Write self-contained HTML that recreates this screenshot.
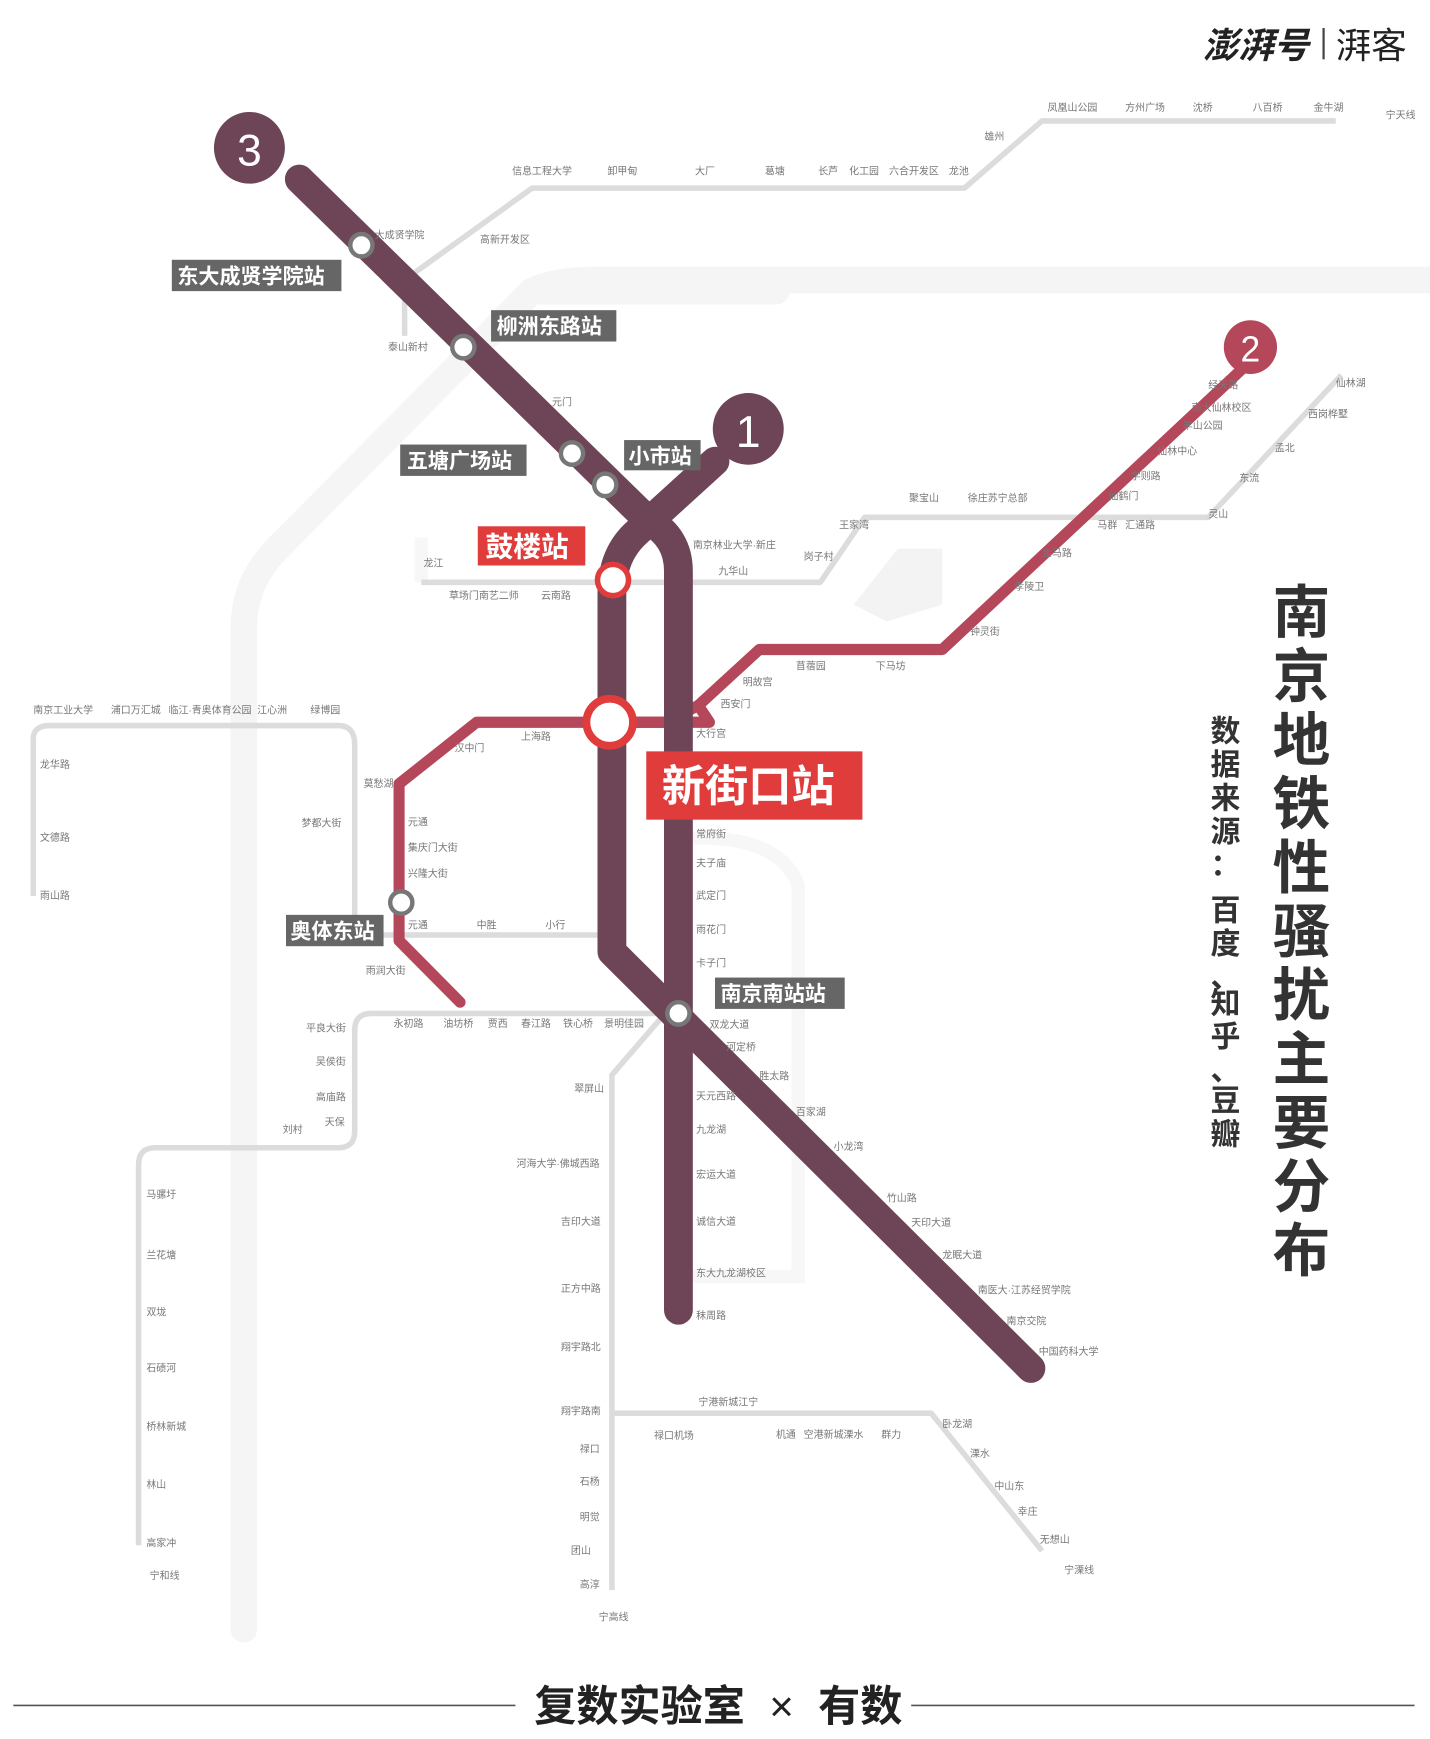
<!DOCTYPE html>
<html><head><meta charset="utf-8"><style>
html,body{margin:0;padding:0;background:#fff;}
svg{display:block;}
text{font-family:"Liberation Sans","Noto Sans CJK SC",sans-serif;}
.s{font-size:9px;fill:#777;}
</style></head><body>
<svg width="1430" height="1739" viewBox="0 0 1290 1553" preserveAspectRatio="none" xmlns="http://www.w3.org/2000/svg">
<rect width="1290" height="1553" fill="#fff"/>
<g stroke="#f5f5f5" stroke-width="24" fill="none" stroke-linecap="round">
<path d="M220 1455 V560 Q220 520 250 490 L480 260 Q500 250 540 250 H1290"/>
<path d="M480 260 H700"/>
</g>
<path d="M770 540 L810 490 H850 V540 L800 555 Z" fill="#f3f3f3"/>
<g stroke="#f7f7f7" stroke-width="12" fill="none">
<path d="M380 480 V520 M600 750 Q700 740 720 790 V1140 H600"/>
</g>
<g stroke="#dcdcdc" stroke-width="5" fill="none" stroke-linejoin="round">
<path d="M365 300 V250 L480 168 H870 L940 108 H1205"/>
<path d="M380 520 H740 L780 462 H1090 L1210 335"/>
<path d="M30 800 V660 Q30 648 45 648 H305 Q320 648 320 665 V825 Q320 835 335 835 H545"/>
<path d="M125 1380 V1040 Q125 1025 140 1025 H305 Q320 1025 320 1010 V920 Q320 905 335 905 H600"/>
<path d="M600 905 L552 960 V1420"/>
<path d="M552 1262 H840 L940 1385"/>
</g>
<path d="M1120 330 L850 580 H685 L630 630 L640 645 H430 L360 700 V840 L415 895" stroke="#b5475a" stroke-width="10" fill="none" stroke-linejoin="round" stroke-linecap="round"/>
<path d="M630 630 L600 645 H540" stroke="#b5475a" stroke-width="10" fill="none"/>
<g stroke="#6e4457" stroke-width="26" fill="none" stroke-linecap="round" stroke-linejoin="round">
<path d="M270 160 L585 465 Q612 480 612 510 V1170"/>
<path d="M645 412 L575 475 Q552 495 552 530 V850 L930 1222"/>
</g>
<circle cx="225" cy="132" r="32" fill="#6e4457"/><text x="225" y="148" font-size="40" fill="#fff" text-anchor="middle">3</text>
<circle cx="675" cy="383" r="32" fill="#6e4457"/><text x="675" y="399" font-size="40" fill="#fff" text-anchor="middle">1</text>
<circle cx="1128" cy="310" r="24" fill="#b5475a"/><text x="1128" y="323" font-size="32" fill="#fff" text-anchor="middle">2</text>
<g fill="#fff" stroke="#777" stroke-width="4">
<circle cx="326" cy="219" r="10"/><circle cx="418" cy="310" r="10"/><circle cx="516" cy="405" r="10"/><circle cx="546" cy="433" r="10"/><circle cx="362" cy="806" r="10"/><circle cx="612" cy="905" r="10"/>
</g>
<circle cx="553" cy="518" r="14" fill="#fff" stroke="#e03c3c" stroke-width="5"/>
<circle cx="550" cy="645" r="21" fill="#fff" stroke="#e03c3c" stroke-width="7"/>
<g font-size="19" fill="#fff" font-weight="bold">
<rect x="155" y="232" width="153" height="28" fill="#666"/><text x="160" y="253">东大成贤学院站</text>
<rect x="443" y="277" width="113" height="28" fill="#666"/><text x="448" y="298">柳洲东路站</text>
<rect x="361" y="397" width="114" height="28" fill="#666"/><text x="367" y="418">五塘广场站</text>
<rect x="563" y="393" width="69" height="27" fill="#666"/><text x="567" y="414">小市站</text>
<rect x="258" y="817" width="88" height="28" fill="#666"/><text x="262" y="838">奥体东站</text>
<rect x="645" y="873" width="117" height="28" fill="#666"/><text x="650" y="894">南京南站站</text>
<rect x="431" y="470" width="97" height="35" fill="#e03c3c"/><text x="438" y="497" font-size="25">鼓楼站</text>
<rect x="583" y="671" width="195" height="61" fill="#e03c3c"/><text x="597" y="716" font-size="39">新街口站</text>
</g>
<g class="s">
<text x="462" y="156">信息工程大学</text><text x="548" y="156">卸甲甸</text><text x="627" y="156">大厂</text><text x="690" y="156">葛塘</text><text x="738" y="156">长芦</text><text x="766" y="156">化工园</text><text x="802" y="156">六合开发区</text><text x="856" y="156">龙池</text>
<text x="888" y="125">雄州</text><text x="945" y="99">凤凰山公园</text><text x="1015" y="99">方州广场</text><text x="1076" y="99">沈桥</text><text x="1130" y="99">八百桥</text><text x="1185" y="99">金牛湖</text><text x="1250" y="106">宁天线</text>
<text x="433" y="217">高新开发区</text><text x="338" y="213">大成贤学院</text><text x="350" y="313">泰山新村</text><text x="498" y="362">元门</text>
<text x="820" y="448">聚宝山</text><text x="873" y="448">徐庄苏宁总部</text><text x="757" y="472">王家湾</text><text x="725" y="500">岗子村</text><text x="648" y="513">九华山</text><text x="625" y="490">南京林业大学·新庄</text>
<text x="405" y="535">草场门南艺二师</text><text x="488" y="535">云南路</text><text x="382" y="506">龙江</text>
<text x="990" y="472">马群</text><text x="1015" y="472">汇通路</text><text x="1090" y="462">灵山</text><text x="1118" y="430">东流</text><text x="1150" y="403">孟北</text><text x="1180" y="373">西岗桦墅</text><text x="1205" y="345">仙林湖</text>
<text x="1090" y="347">经天路</text><text x="1075" y="367">南大仙林校区</text><text x="1067" y="383">羊山公园</text><text x="1044" y="406">仙林中心</text><text x="1020" y="428">学则路</text><text x="1000" y="446">仙鹤门</text><text x="940" y="497">金马路</text><text x="915" y="527">孝陵卫</text><text x="875" y="567">钟灵街</text>
<text x="790" y="598">下马坊</text><text x="718" y="598">苜蓿园</text><text x="670" y="612">明故宫</text><text x="650" y="632">西安门</text><text x="628" y="658">大行宫</text>
<text x="30" y="637">南京工业大学</text><text x="100" y="637">浦口万汇城</text><text x="152" y="637">临江·青奥体育公园</text><text x="232" y="637">江心洲</text><text x="280" y="637">绿博园</text>
<text x="36" y="686">龙华路</text><text x="36" y="751">文德路</text><text x="36" y="803">雨山路</text><text x="272" y="738">梦都大街</text><text x="328" y="703">莫愁湖</text>
<text x="410" y="671">汉中门</text><text x="470" y="661">上海路</text><text x="368" y="737">元通</text><text x="368" y="760">集庆门大街</text><text x="368" y="783">兴隆大街</text><text x="368" y="829">元通</text><text x="430" y="829">中胜</text><text x="492" y="829">小行</text>
<text x="330" y="870">雨润大街</text><text x="355" y="917">永初路</text><text x="400" y="917">油坊桥</text><text x="440" y="917">贾西</text><text x="470" y="917">春江路</text><text x="508" y="917">铁心桥</text><text x="545" y="917">景明佳园</text>
<text x="276" y="921">平良大街</text><text x="285" y="951">吴侯街</text><text x="285" y="983">高庙路</text><text x="293" y="1005">天保</text><text x="255" y="1012">刘村</text>
<text x="132" y="1070">马骡圩</text><text x="132" y="1124">兰花塘</text><text x="132" y="1175">双垅</text><text x="132" y="1225">石碛河</text><text x="132" y="1277">桥林新城</text><text x="132" y="1329">林山</text><text x="132" y="1381">高家冲</text><text x="135" y="1410">宁和线</text>
<text x="518" y="975">翠屏山</text><text x="466" y="1042">河海大学·佛城西路</text><text x="506" y="1094">吉印大道</text><text x="506" y="1154">正方中路</text><text x="506" y="1206">翔宇路北</text><text x="506" y="1263">翔宇路南</text><text x="523" y="1297">禄口</text><text x="523" y="1326">石杨</text><text x="523" y="1358">明觉</text><text x="515" y="1388">团山</text><text x="523" y="1418">高淳</text><text x="540" y="1447">宁高线</text>
<text x="630" y="1255">宁港新城江宁</text><text x="590" y="1285">禄口机场</text><text x="700" y="1284">机通</text><text x="725" y="1284">空港新城溧水</text><text x="795" y="1284">群力</text><text x="850" y="1275">卧龙湖</text><text x="875" y="1301">溧水</text><text x="897" y="1330">中山东</text><text x="918" y="1353">幸庄</text><text x="938" y="1378">无想山</text><text x="960" y="1405">宁溧线</text>
<text x="640" y="918">双龙大道</text><text x="655" y="938">河定桥</text><text x="685" y="964">胜太路</text><text x="718" y="996">百家湖</text><text x="752" y="1027">小龙湾</text><text x="800" y="1073">竹山路</text><text x="822" y="1095">天印大道</text><text x="850" y="1124">龙眠大道</text><text x="882" y="1155">南医大·江苏经贸学院</text><text x="908" y="1183">南京交院</text><text x="937" y="1210">中国药科大学</text>
<text x="628" y="982">天元西路</text><text x="628" y="1012">九龙湖</text><text x="628" y="1052">宏运大道</text><text x="628" y="1094">诚信大道</text><text x="628" y="1140">东大九龙湖校区</text><text x="628" y="1178">秣周路</text>
<text x="628" y="748">常府街</text><text x="628" y="774">夫子庙</text><text x="628" y="803">武定门</text><text x="628" y="833">雨花门</text><text x="628" y="863">卡子门</text>
</g>
<text font-size="52" fill="#333" font-weight="bold">
<tspan x="1148" y="565">南</tspan><tspan x="1148" y="622">京</tspan><tspan x="1148" y="679">地</tspan><tspan x="1148" y="736">铁</tspan><tspan x="1148" y="793">性</tspan><tspan x="1148" y="850">骚</tspan><tspan x="1148" y="907">扰</tspan><tspan x="1148" y="964">主</tspan><tspan x="1148" y="1021">要</tspan><tspan x="1148" y="1078">分</tspan><tspan x="1148" y="1135">布</tspan>
</text>
<text font-size="27" fill="#333" font-weight="bold">
<tspan x="1092" y="662">数</tspan><tspan x="1092" y="692">据</tspan><tspan x="1092" y="722">来</tspan><tspan x="1092" y="752">源</tspan><tspan x="1092" y="782">：</tspan><tspan x="1092" y="822">百</tspan><tspan x="1092" y="852">度</tspan><tspan x="1092" y="882">、</tspan><tspan x="1092" y="905">知</tspan><tspan x="1092" y="935">乎</tspan><tspan x="1092" y="965">、</tspan><tspan x="1092" y="992">豆</tspan><tspan x="1092" y="1022">瓣</tspan>
</text>
<text x="1085" y="52" font-size="32" font-weight="bold" font-style="italic" fill="#222">澎湃号</text>
<rect x="1193" y="25" width="2" height="28" fill="#444"/>
<text x="1205" y="52" font-size="32" fill="#222">湃客</text>
<line x1="12" y1="1523" x2="465" y2="1523" stroke="#555" stroke-width="1.5"/>
<line x1="822" y1="1523" x2="1276" y2="1523" stroke="#555" stroke-width="1.5"/>
<text x="482" y="1537" font-size="38" font-weight="bold" fill="#222">复数实验室</text>
<text x="694" y="1537" font-size="38" fill="#222">×</text>
<text x="738" y="1537" font-size="38" font-weight="bold" fill="#222">有数</text>
</svg>
</body></html>
